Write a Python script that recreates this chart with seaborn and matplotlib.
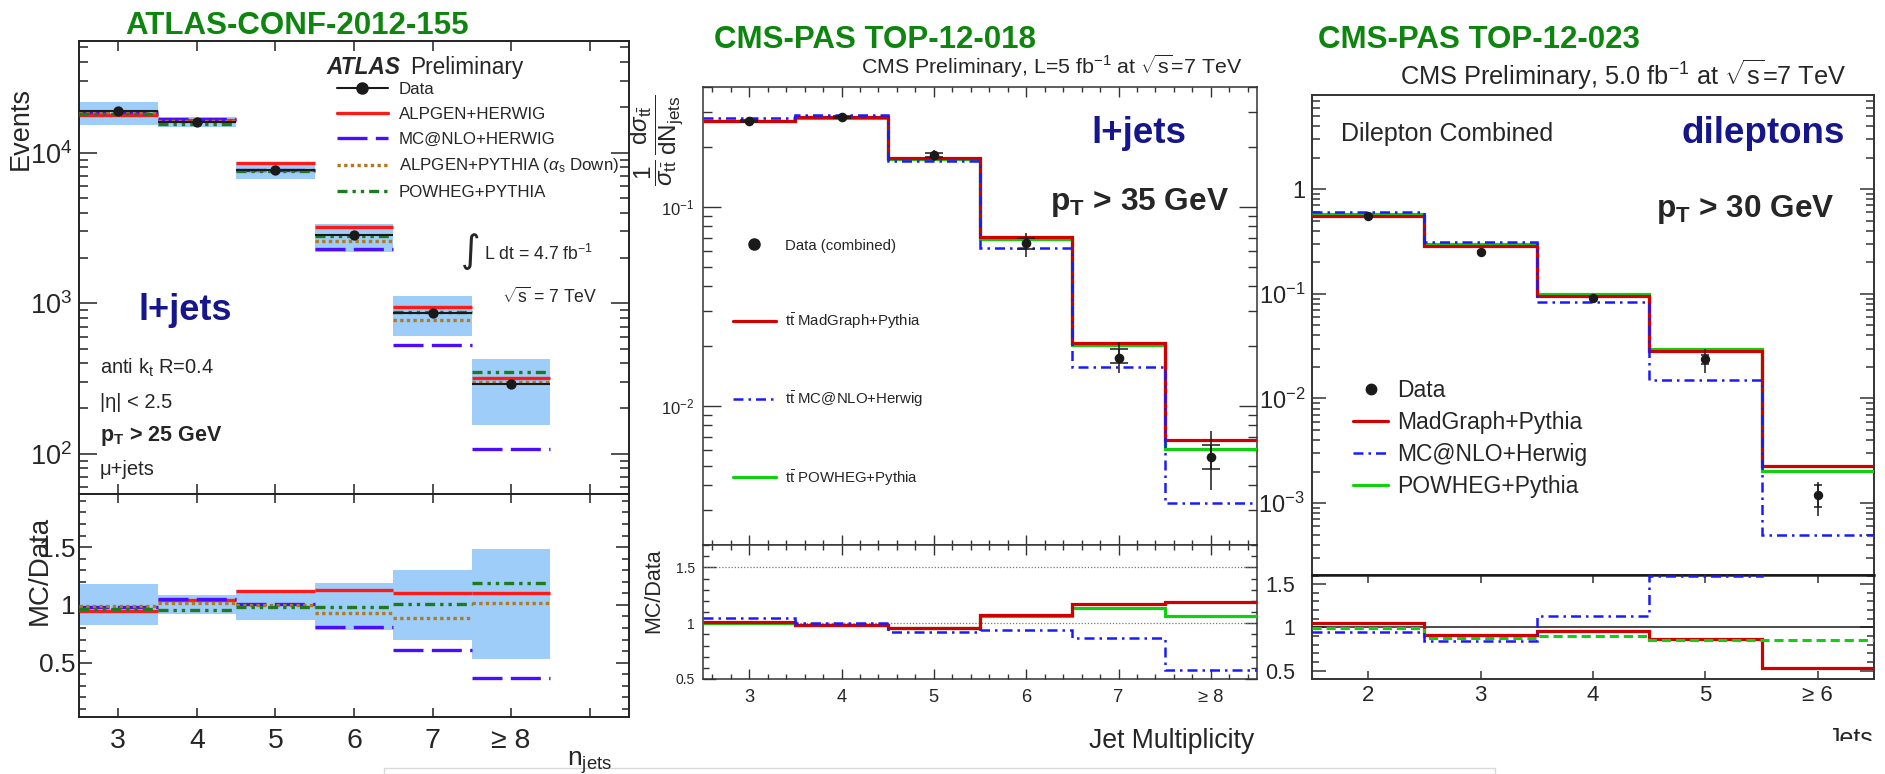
import numpy as np
import matplotlib
matplotlib.use("Agg")
import matplotlib.pyplot as plt
import seaborn as sns
from matplotlib import font_manager as fm
from matplotlib.lines import Line2D
from matplotlib.patches import Rectangle
from matplotlib.ticker import (FixedLocator, NullFormatter, FuncFormatter,
                               MultipleLocator, LogLocator, NullLocator)
import matplotlib.transforms as mtransforms

# ------------------------------------------------------------------ data
# ATLAS-CONF-2012-155 (l+jets)
atlas_njets = [3, 4, 5, 6, 7, 8]
atlas_ticklabels = ['3', '4', '5', '6', '7', '≥ 8', '']
atlas_data = [18800, 16000, 7650, 2850, 864, 292]
atlas_unc_lo = [15300, 14700, 6640, 2190, 603, 156]
atlas_unc_hi = [21700, 17200, 8670, 3340, 1120, 427]
atlas_alpgen_herwig = [17700, 16600, 8500, 3200, 950, 318]
atlas_mcnlo_herwig = [18500, 16800, 7730, 2300, 530, 108]
atlas_alpgen_pythia = [18600, 16300, 7650, 2600, 773, 300]
atlas_powheg_pythia = [18100, 15400, 7540, 2790, 870, 347]
atlas_ratio_unc_lo = [0.83, 0.92, 0.87, 0.78, 0.70, 0.53]
atlas_ratio_unc_hi = [1.18, 1.09, 1.13, 1.19, 1.30, 1.48]
atlas_ratio_alpgen_herwig = [0.946, 1.04, 1.12, 1.13, 1.10, 1.10]
atlas_ratio_mcnlo_herwig = [0.985, 1.05, 1.01, 0.81, 0.61, 0.37]
atlas_ratio_alpgen_pythia = [0.99, 1.02, 1.00, 0.93, 0.89, 1.015]
atlas_ratio_powheg_pythia = [0.964, 0.96, 0.985, 0.98, 1.006, 1.19]

# CMS-PAS TOP-12-018 (l+jets, normalised)
lj_njets = [3, 4, 5, 6, 7, 8]
lj_ticklabels = ['3', '4', '5', '6', '7', '≥ 8']
lj_data = [0.269, 0.284, 0.182, 0.0658, 0.0175, 0.00553]
lj_tot_lo = [0.262, 0.277, 0.169, 0.0561, 0.0146, 0.00379]
lj_tot_hi = [0.276, 0.291, 0.194, 0.0741, 0.0210, 0.00746]
lj_stat_lo = [0.266, 0.281, 0.177, 0.0614, 0.0165, 0.00484]
lj_stat_hi = [0.272, 0.287, 0.187, 0.0698, 0.0193, 0.00637]
lj_madgraph = [0.270, 0.282, 0.176, 0.0704, 0.0208, 0.00671]
lj_powheg = [0.270, 0.281, 0.173, 0.0692, 0.0203, 0.00605]
lj_mcnlo = [0.281, 0.288, 0.169, 0.0619, 0.0156, 0.00326]
lj_ratio_madgraph = [1.006, 0.984, 0.96, 1.077, 1.173, 1.194]
lj_ratio_powheg = [1.0, 0.984, 0.96, 1.062, 1.139, 1.068]
lj_ratio_mcnlo = [1.043, 1.0, 0.923, 0.938, 0.87, 0.583]

# CMS-PAS TOP-12-023 (dileptons, normalised)
dl_njets = [2, 3, 4, 5, 6]
dl_ticklabels = ['2', '3', '4', '5', '≥ 6']
dl_data = [0.558, 0.251, 0.092, 0.0238, 0.0012]
dl_tot_lo = [0.536, 0.240, 0.088, 0.0177, 0.00075]
dl_tot_hi = [0.580, 0.262, 0.096, 0.0296, 0.0016]
dl_stat_lo = [0.550, 0.247, 0.090, 0.0215, 0.00092]
dl_stat_hi = [0.566, 0.255, 0.094, 0.0260, 0.00149]
dl_madgraph = [0.555, 0.288, 0.0955, 0.0286, 0.00228]
dl_powheg = [0.580, 0.300, 0.0996, 0.0295, 0.00204]
dl_mcnlo = [0.600, 0.315, 0.0833, 0.0150, 0.000493]
dl_ratio_madgraph = [1.056, 0.916, 0.96, 0.868, 0.53]
dl_ratio_powheg = [0.996, 0.877, 0.904, 0.856, 0.856]
dl_ratio_mcnlo = [0.948, 0.84, 1.135, 1.60, 2.46]

# ------------------------------------------------------------------ style
sns.set_theme(style="ticks")
plt.rcParams['font.family'] = ['Liberation Sans', 'DejaVu Sans']
plt.rcParams['mathtext.fontset'] = 'custom'
plt.rcParams['mathtext.rm'] = 'Liberation Sans'
plt.rcParams['mathtext.it'] = 'Liberation Sans:italic'
plt.rcParams['mathtext.bf'] = 'Liberation Sans:bold'
plt.rcParams['mathtext.sf'] = 'Liberation Sans'
plt.rcParams['axes.unicode_minus'] = True

_avail = {f.name for f in fm.fontManager.ttflist}
if 'Liberation Sans Narrow' in _avail:
    NARROW, NSCALE = 'Liberation Sans Narrow', 1.0 / 0.82
else:
    NARROW, NSCALE = 'Liberation Sans', 1.0

GREEN_T = '#0E850E'
NAVY = '#16168C'
BAND = '#9DCDF8'
A_RED, A_BLUE, A_BROWN, A_GREEN = '#FF1A1A', '#4B0CFF', '#B07A22', '#1F7A1F'
C_RED, C_GREEN, C_BLUE = '#D00000', '#10D010', '#1A1AFF'

W, H = 1885, 774
fig = plt.figure(figsize=(W / 100, H / 100), dpi=100)


def rect(x0, y0, x1, y1):
    return [x0 / W, 1 - y1 / H, (x1 - x0) / W, (y1 - y0) / H]


def ftext(x, y, s, **kw):
    return fig.text(x / W, 1 - y / H, s, **kw)


def logfmt(v, pos):
    e = int(round(np.log10(v)))
    if e == 0:
        return '1'
    return r'$\mathdefault{10^{%d}}$' % e


def ratiofmt(v, pos):
    return '1' if abs(v - 1) < 1e-9 else '%.1f' % v


def frame(ax, lw, color):
    for s in ax.spines.values():
        s.set_linewidth(lw)
        s.set_color(color)
        s.set_visible(True)


# ================================================================ ATLAS
axA = fig.add_axes(rect(79, 41, 629, 494))
axAr = fig.add_axes(rect(79, 494, 629, 717))
xa = np.array(atlas_njets, dtype=float)

axA.set_yscale('log')
axA.bar(xa, np.array(atlas_unc_hi) - np.array(atlas_unc_lo), bottom=atlas_unc_lo,
        width=1.0, color=BAND, linewidth=0, zorder=1)
seg = [(atlas_alpgen_herwig, A_RED, '-'),
       (atlas_mcnlo_herwig, A_BLUE, (0, (9, 2.5))),
       (atlas_alpgen_pythia, A_BROWN, (0, (1, 1))),
       (atlas_powheg_pythia, A_GREEN, (0, (3, 1.5, 1, 1.5, 1, 1.5)))]
for vals, col, ls in seg:
    lc = axA.hlines(vals, xa - 0.5, xa + 0.5, colors=col, lw=2.4, zorder=3)
    lc.set_linestyle(ls)
axA.errorbar(xa, atlas_data, xerr=0.5, fmt='none', ecolor='k', elinewidth=1.5, zorder=5)
sns.scatterplot(x=xa, y=atlas_data, ax=axA, color='k', s=55, edgecolor='k',
                linewidth=0, zorder=6, legend=False)
axA.set_xlim(2.5, 9.5)
axA.set_ylim(54, 55200)
axA.xaxis.set_major_locator(FixedLocator([3, 4, 5, 6, 7, 8, 9]))
axA.xaxis.set_major_formatter(NullFormatter())
axA.yaxis.set_major_locator(LogLocator(base=10, numticks=10))
axA.yaxis.set_minor_locator(LogLocator(base=10, subs=np.arange(2, 10), numticks=20))
axA.yaxis.set_major_formatter(FuncFormatter(logfmt))
axA.yaxis.set_minor_formatter(NullFormatter())
axA.tick_params(which='both', direction='in', top=True, right=True, width=1.1, color='#222')
axA.tick_params(axis='y', which='major', length=13, pad=5, labelsize=19.5)
axA.tick_params(axis='y', which='minor', length=6.5)
axA.tick_params(axis='x', which='major', length=7.5)
axA.set_xlabel('')
axA.set_ylabel('')
frame(axA, 1.4, '#222')

handlesA = [Line2D([], [], color='k', lw=1.5, marker='o', ms=8),
            Line2D([], [], color=A_RED, lw=2.4),
            Line2D([], [], color=A_BLUE, lw=2.4, ls=(0, (9, 2.5))),
            Line2D([], [], color=A_BROWN, lw=2.4, ls=(0, (1, 1))),
            Line2D([], [], color=A_GREEN, lw=2.4, ls=(0, (3, 1.5, 1, 1.5, 1, 1.5)))]
labelsA = ['Data', 'ALPGEN+HERWIG', 'MC@NLO+HERWIG',
           r'ALPGEN+PYTHIA ($\alpha_{\mathrm{s}}$ Down)', 'POWHEG+PYTHIA']
axA.legend(handlesA, labelsA, loc='upper left', bbox_to_anchor=(336.7 / W, 1 - 82.0 / H),
           bbox_transform=fig.transFigure, frameon=False, fontsize=12.2,
           handlelength=3.0, handletextpad=0.66, labelspacing=0.58,
           borderpad=0, borderaxespad=0)

axAr.bar(xa, np.array(atlas_ratio_unc_hi) - np.array(atlas_ratio_unc_lo),
         bottom=atlas_ratio_unc_lo, width=1.0, color=BAND, linewidth=0, zorder=1)
segr = [(atlas_ratio_alpgen_herwig, A_RED, '-'),
        (atlas_ratio_mcnlo_herwig, A_BLUE, (0, (9, 2.5))),
        (atlas_ratio_alpgen_pythia, A_BROWN, (0, (1, 1))),
        (atlas_ratio_powheg_pythia, A_GREEN, (0, (3, 1.5, 1, 1.5, 1, 1.5)))]
for vals, col, ls in segr:
    lc = axAr.hlines(vals, xa - 0.5, xa + 0.5, colors=col, lw=2.4, zorder=3)
    lc.set_linestyle(ls)
axAr.set_xlim(2.5, 9.5)
axAr.set_ylim(0.03, 1.96)
axAr.set_xticks([3, 4, 5, 6, 7, 8, 9])
axAr.set_xticklabels(atlas_ticklabels)
axAr.yaxis.set_major_locator(FixedLocator([0.5, 1.0, 1.5]))
axAr.yaxis.set_minor_locator(MultipleLocator(0.1))
axAr.yaxis.set_major_formatter(FuncFormatter(ratiofmt))
axAr.tick_params(which='both', direction='in', top=True, right=True, width=1.1, color='#222')
axAr.tick_params(axis='y', which='major', length=9.5, pad=2.5, labelsize=19)
axAr.tick_params(axis='y', which='minor', length=5)
axAr.tick_params(axis='x', which='major', length=6.5, pad=8, labelsize=20.5)
axAr.tick_params(axis='x', which='minor', bottom=False, top=False)
frame(axAr, 1.4, '#222')

ftext(297.5, 34.5, 'ATLAS-CONF-2012-155', color=GREEN_T, fontsize=22.5,
      fontweight='bold', ha='center', va='baseline')
ftext(326.5, 74, 'ATLAS', fontsize=16.3, fontweight='bold', fontstyle='italic', va='baseline')
ftext(410, 74, 'Preliminary', fontsize=16.3, va='baseline')
ftext(471, 252, '∫', fontsize=27, family='DejaVu Sans', ha='center', va='center')
ftext(484, 260, r'L dt = 4.7 fb$^{-1}$', fontsize=12.7, va='baseline')
ftext(502, 303, r'$\sqrt{\mathrm{s}}$ = 7 TeV', fontsize=12.7, va='baseline')
ftext(138.8, 320, 'l+jets', color=NAVY, fontsize=26, fontweight='bold', va='baseline')
ftext(100, 374, r'anti k$_{\mathrm{t}}$ R=0.4', fontsize=14.5, va='baseline')
ftext(100, 408.5, '|η| < 2.5', fontsize=14.5, va='baseline')
ftext(100, 441, r'$\mathbf{p_{T}}$ > 25 GeV', fontsize=15.5, fontweight='bold', va='baseline')
ftext(100, 475, 'μ+jets', fontsize=14.5, va='baseline')
ftext(21, 129, 'Events', fontsize=19.5, rotation=90, ha='center', va='center')
ftext(40, 570, 'MC/Data', fontsize=20, rotation=90, ha='center', va='center')
ftext(567, 766, r'$\mathrm{n_{jets}}$', fontsize=19, ha='left', va='baseline')

# ================================================================ CMS l+jets
axM = fig.add_axes(rect(703, 87, 1257, 545))
axMr = fig.add_axes(rect(703, 545, 1257, 679))
xm = np.array(lj_njets, dtype=float)
em = np.append(xm - 0.5, xm[-1] + 0.5)

axM.set_yscale('log')
axM.stairs(lj_powheg, em, baseline=None, color=C_GREEN, lw=2.3, zorder=3)
axM.stairs(lj_madgraph, em, baseline=None, color=C_RED, lw=2.3, zorder=4)
axM.stairs(lj_mcnlo, em, baseline=None, color=C_BLUE, lw=1.8, ls=(0, (4, 2, 1, 2)), zorder=5)
d = np.array(lj_data)
axM.errorbar(xm, d, yerr=[d - np.array(lj_tot_lo), np.array(lj_tot_hi) - d], fmt='none',
             ecolor='k', elinewidth=1.1, capsize=0, zorder=6)
axM.errorbar(xm, d, yerr=[d - np.array(lj_stat_lo), np.array(lj_stat_hi) - d], fmt='none',
             ecolor='k', elinewidth=1.1, capsize=6.5, capthick=1.1, zorder=6)
sns.scatterplot(x=xm, y=d, ax=axM, color='k', s=48, edgecolor='k', linewidth=0,
                zorder=7, legend=False)
axM.set_xlim(2.5, 8.5)
axM.set_ylim(0.002, 0.40)
axM.xaxis.set_major_locator(FixedLocator(lj_njets))
axM.xaxis.set_minor_locator(MultipleLocator(0.2))
axM.xaxis.set_major_formatter(NullFormatter())
axM.yaxis.set_major_locator(LogLocator(base=10, numticks=10))
axM.yaxis.set_minor_locator(LogLocator(base=10, subs=np.arange(2, 10), numticks=20))
axM.yaxis.set_major_formatter(FuncFormatter(logfmt))
axM.yaxis.set_minor_formatter(NullFormatter())
axM.tick_params(which='both', direction='in', top=True, right=True, width=1.0, color='#333')
axM.tick_params(axis='y', which='major', length=13, pad=6, labelsize=12)
axM.tick_params(axis='y', which='minor', length=6.8)
axM.tick_params(axis='x', which='major', length=7)
axM.tick_params(axis='x', which='minor', length=3.6)
frame(axM, 1.1, '#333')

nprop = dict(family=NARROW, size=10.8 * NSCALE)
handlesM = [Line2D([], [], color='k', marker='o', ls='none', ms=8),
            Line2D([], [], color=C_RED, lw=2.3),
            Line2D([], [], color=C_BLUE, lw=1.8, ls=(0, (4, 2, 1, 2))),
            Line2D([], [], color=C_GREEN, lw=2.3)]
labelsM = ['Data (combined)', r'$\mathrm{t\bar{t}}$ MadGraph+Pythia',
           r'$\mathrm{t\bar{t}}$ MC@NLO+Herwig', r'$\mathrm{t\bar{t}}$ POWHEG+Pythia']
fsM = nprop['size'] * 100 / 72
axM.legend(handlesM, labelsM, loc='upper left',
           bbox_to_anchor=(733 / W, 1 - (247.6 - 0.6 * fsM) / H),
           bbox_transform=fig.transFigure, frameon=False, prop=nprop,
           handlelength=42.5 / fsM, handletextpad=9.5 / fsM,
           labelspacing=(76.5 - 1.2 * fsM) / fsM, borderpad=0, borderaxespad=0)

axMr.axhline(1.5, color='#777', ls=(0, (1, 1.5)), lw=0.9, zorder=1)
axMr.axhline(1.0, color='#777', ls=(0, (1, 1.5)), lw=0.9, zorder=1)
axMr.stairs(lj_ratio_powheg, em, baseline=None, color=C_GREEN, lw=2.3, zorder=3)
axMr.stairs(lj_ratio_madgraph, em, baseline=None, color=C_RED, lw=2.3, zorder=4)
axMr.stairs(lj_ratio_mcnlo, em, baseline=None, color=C_BLUE, lw=1.8, ls=(0, (4, 2, 1, 2)), zorder=5)
axMr.set_xlim(2.5, 8.5)
axMr.set_ylim(0.5, 1.70)
axMr.set_xticks(lj_njets)
axMr.set_xticklabels(lj_ticklabels, family=NARROW)
axMr.xaxis.set_minor_locator(MultipleLocator(0.2))
axMr.yaxis.set_major_locator(FixedLocator([0.5, 1.0, 1.5]))
axMr.yaxis.set_minor_locator(MultipleLocator(0.1))
axMr.yaxis.set_major_formatter(FuncFormatter(ratiofmt))
axMr.tick_params(which='both', direction='in', top=True, right=True, width=1.0, color='#333')
axMr.tick_params(axis='y', which='major', length=9, pad=6, labelsize=10)
axMr.tick_params(axis='y', which='minor', length=4.5)
axMr.tick_params(axis='x', which='major', length=7, pad=7, labelsize=13.2 * NSCALE)
axMr.tick_params(axis='x', which='minor', length=3.6)
frame(axMr, 1.1, '#333')

ftext(713.5, 48.3, 'CMS-PAS TOP-12-018', color=GREEN_T, fontsize=22.5,
      fontweight='bold', va='baseline')
ftext(1242, 74, r'CMS Preliminary, L=5 fb$^{-1}$ at $\sqrt{\mathrm{s}}$=7 TeV',
      fontsize=15.4, ha='right', va='baseline')
ftext(1091, 143, 'l+jets', color=NAVY, fontsize=26.5, fontweight='bold', va='baseline')
ftext(1050, 210, r'$\mathbf{p_{T}}$ > 35 GeV', fontsize=22.8, fontweight='bold', va='baseline')
ftext(657, 140,
      r'$\dfrac{\mathrm{1}}{\sigma_{\mathrm{t\bar{t}}}}\,\dfrac{\mathrm{d}\sigma_{\mathrm{t\bar{t}}}}{\mathrm{dN_{jets}}}$',
      fontsize=17.5, rotation=90, ha='center', va='center')
ftext(654, 591, 'MC/Data', fontsize=15.5, rotation=90, ha='center', va='center')
ftext(1254, 741, 'Jet Multiplicity', fontsize=19.2, ha='right', va='center')

# ================================================================ CMS dileptons
axR = fig.add_axes(rect(1312, 95, 1874, 575))
axRr = fig.add_axes(rect(1312, 575, 1874, 679))
xr = np.array(dl_njets, dtype=float)
er = np.append(xr - 0.5, xr[-1] + 0.5)

axR.set_yscale('log')
axR.stairs(dl_powheg, er, baseline=None, color=C_GREEN, lw=2.3, zorder=3)
axR.stairs(dl_madgraph, er, baseline=None, color=C_RED, lw=2.3, zorder=4)
axR.stairs(dl_mcnlo, er, baseline=None, color=C_BLUE, lw=1.8, ls=(0, (4, 2, 1, 2)), zorder=5)
dd = np.array(dl_data)
axR.errorbar(xr, dd, yerr=[dd - np.array(dl_tot_lo), np.array(dl_tot_hi) - dd], fmt='none',
             ecolor='k', elinewidth=1.1, capsize=0, zorder=6)
axR.errorbar(xr, dd, yerr=[dd - np.array(dl_stat_lo), np.array(dl_stat_hi) - dd], fmt='none',
             ecolor='k', elinewidth=1.1, capsize=3, capthick=1.1, zorder=6)
sns.scatterplot(x=xr, y=dd, ax=axR, color='k', s=46, edgecolor='k', linewidth=0,
                zorder=7, legend=False)
axR.set_xlim(1.5, 6.5)
axR.set_ylim(2.05e-4, 7.97)
axR.xaxis.set_major_locator(NullLocator())
axR.xaxis.set_minor_locator(NullLocator())
axR.yaxis.set_major_locator(LogLocator(base=10, numticks=10))
axR.yaxis.set_minor_locator(LogLocator(base=10, subs=np.arange(2, 10), numticks=20))
axR.yaxis.set_major_formatter(FuncFormatter(logfmt))
axR.yaxis.set_minor_formatter(NullFormatter())
axR.tick_params(which='both', direction='in', right=True, width=1.1, color='#333')
axR.tick_params(axis='y', which='major', length=10.4, pad=5, labelsize=17)
axR.tick_params(axis='y', which='minor', length=6)
frame(axR, 1.4, '#333')

handlesR = [Line2D([], [], color='k', marker='o', ls='none', ms=7.5),
            Line2D([], [], color=C_RED, lw=2.3),
            Line2D([], [], color=C_BLUE, lw=1.8, ls=(0, (4, 2, 1, 2))),
            Line2D([], [], color=C_GREEN, lw=2.3)]
labelsR = ['Data', 'MadGraph+Pythia', 'MC@NLO+Herwig', 'POWHEG+Pythia']
fsR = 16.5 * 100 / 72
axR.legend(handlesR, labelsR, loc='upper left',
           bbox_to_anchor=(1353 / W, 1 - (392.4 - 0.6 * fsR) / H),
           bbox_transform=fig.transFigure, frameon=False, fontsize=16.5,
           handlelength=35.4 / fsR, handletextpad=9.1 / fsR,
           labelspacing=(36.7 - 1.2 * fsR) / fsR, borderpad=0, borderaxespad=0)

axRr.axhline(1.0, color='k', lw=1.1, zorder=1)
axRr.stairs(dl_ratio_madgraph, er, baseline=None, color=C_RED, lw=2.3, zorder=3)
axRr.stairs(dl_ratio_powheg, er, baseline=None, color=C_GREEN, lw=2.2, ls=(0, (3, 1.6)), zorder=4)
axRr.stairs(dl_ratio_mcnlo, er, baseline=None, color=C_BLUE, lw=1.8, ls=(0, (4, 2, 1, 2)), zorder=5)
axRr.set_xlim(1.5, 6.5)
axRr.set_ylim(0.402, 1.606)
axRr.set_xticks(dl_njets)
axRr.set_xticklabels(dl_ticklabels)
axRr.yaxis.set_major_locator(FixedLocator([0.5, 1.0, 1.5]))
axRr.yaxis.set_minor_locator(MultipleLocator(0.1))
axRr.yaxis.set_major_formatter(FuncFormatter(ratiofmt))
axRr.tick_params(which='both', direction='in', top=True, right=True, width=1.1, color='#333')
axRr.tick_params(axis='y', which='major', length=10.4, pad=12, labelsize=15.5)
axRr.tick_params(axis='y', which='minor', length=5)
axRr.tick_params(axis='x', which='major', length=6, pad=4.5, labelsize=16)
axRr.tick_params(axis='x', which='minor', bottom=False, top=False)
frame(axRr, 1.4, '#333')
axRr.spines['top'].set_color('k')
axRr.spines['top'].set_linewidth(1.8)

ftext(1317.8, 48.3, 'CMS-PAS TOP-12-023', color=GREEN_T, fontsize=22.5,
      fontweight='bold', va='baseline')
ftext(1846.5, 84.5, r'CMS Preliminary, 5.0 fb$^{-1}$ at $\sqrt{\mathrm{s}}$=7 TeV',
      fontsize=18.3, ha='right', va='baseline')
ftext(1340.6, 141.4, 'Dilepton Combined', fontsize=18, va='baseline')
ftext(1681, 143, 'dileptons', color=NAVY, fontsize=26.5, fontweight='bold', va='baseline')
ftext(1656, 216.5, r'$\mathbf{p_{T}}$ > 30 GeV', fontsize=22.7, fontweight='bold', va='baseline')
tj = ftext(1873, 746, 'Jets', fontsize=18, ha='right', va='baseline')
tj.set_clip_box(mtransforms.Bbox.from_extents(0, H - 741, W, H))
tj.set_clip_on(True)

# bottom overlay box (slide element)
fig.patches.append(Rectangle((384 / W, -0.01), (1495 - 384) / W, (774 - 768) / H + 0.01,
                             transform=fig.transFigure, facecolor='white',
                             edgecolor='#D8D8D8', lw=1.0, zorder=0))

fig.savefig('out.png', dpi=100)
